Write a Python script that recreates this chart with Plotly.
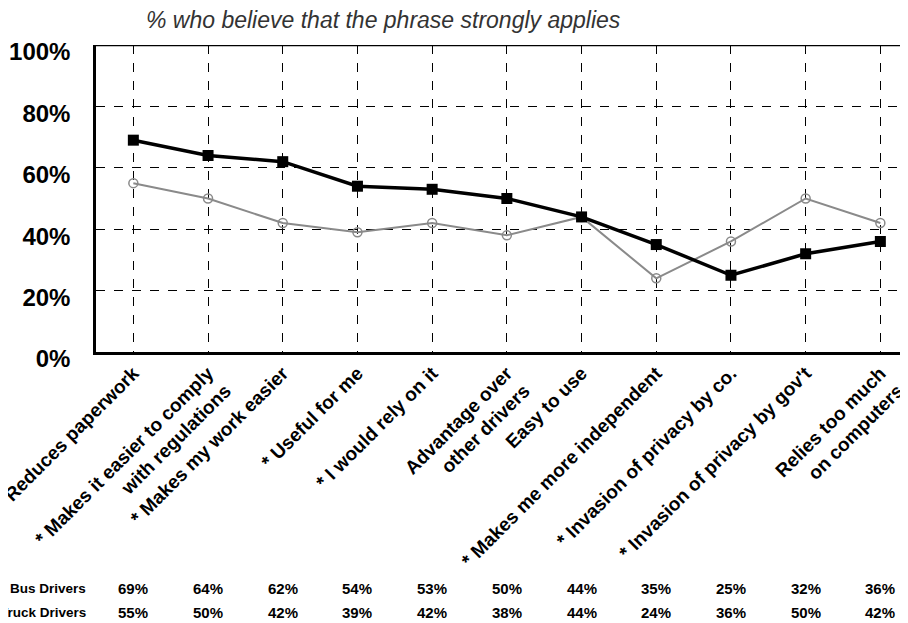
import plotly.graph_objects as go

categories = [
    "Reduces paperwork",
    "* Makes it easier to comply<br>with regulations",
    "* Makes my work easier",
    "* Useful for me",
    "* I would rely on it",
    "Advantage over<br>other drivers",
    "Easy to use",
    "* Makes me more independent",
    "* Invasion of privacy by co.",
    "* Invasion of privacy by gov't",
    "Relies too much<br>on computers",
]
bus = [69, 64, 62, 54, 53, 50, 44, 35, 25, 32, 36]
truck = [55, 50, 42, 39, 42, 38, 44, 24, 36, 50, 42]
y_ticks = [0, 20, 40, 60, 80, 100]
y_labels = ["0%", "20%", "40%", "60%", "80%", "100%"]
title_text = "% who believe that the phrase strongly applies"

FONT = "Liberation Sans, Arial, sans-serif"
xs = list(range(len(categories)))

fig = go.Figure()
fig.add_trace(go.Scatter(
    x=xs, y=truck, mode="lines+markers", name="Truck Drivers",
    line=dict(color="#8a8a8a", width=2),
    marker=dict(symbol="circle-open", size=9, color="#8a8a8a", line=dict(width=1.5)),
))
fig.add_trace(go.Scatter(
    x=xs, y=bus, mode="lines+markers", name="Bus Drivers",
    line=dict(color="black", width=3.5),
    marker=dict(symbol="square", size=11, color="black"),
))

# page has an 8px body margin: figure sits at (8, 8)
fig.update_layout(
    width=900, height=615,
    margin=dict(l=88, r=0, t=37, b=271, autoexpand=False),
    paper_bgcolor="white", plot_bgcolor="white",
    showlegend=False,
    font=dict(family=FONT, color="black"),
)
fig.update_xaxes(
    range=[-0.5, 10.37], tickmode="array", tickvals=xs, ticktext=categories,
    tickangle=-45, tickfont=dict(family=FONT, size=19, color="black", weight="bold"),
    showgrid=True, gridcolor="black", gridwidth=1, griddash="dash",
    showline=True, linecolor="black", linewidth=2.5, mirror=False,
    ticks="", zeroline=False, automargin=False, ticklabeloverflow="allow",
)
fig.update_yaxes(
    range=[0, 100], tickmode="array", tickvals=y_ticks, ticktext=y_labels,
    tickfont=dict(family=FONT, size=24, color="black", weight="bold"),
    showgrid=True, gridcolor="black", gridwidth=1, griddash="dash",
    showline=True, linecolor="black", linewidth=2.5,
    ticks="", zeroline=False, ticklabelstandoff=18, ticklabelshift=7,
    automargin=False, ticklabeloverflow="allow",
)
# top border line at 100%
fig.add_shape(type="line", xref="paper", yref="y", x0=0, x1=1, y0=100, y1=100,
              line=dict(color="black", width=2.5))

fig.add_annotation(text=title_text, xref="paper", yref="paper", x=0, y=1,
                   xshift=48, yshift=25, xanchor="left", yanchor="middle",
                   showarrow=False,
                   font=dict(family=FONT, size=23, color="#333333", style="italic"))

rows = [("Bus Drivers", bus, -236), ("Truck Drivers", truck, -260)]
for name, vals, ys in rows:
    fig.add_annotation(text=name, xref="paper", yref="paper", x=0, y=0,
                       xshift=-8, yshift=ys, xanchor="right", yanchor="middle",
                       showarrow=False,
                       font=dict(family=FONT, size=13.5, color="black", weight="bold"))
    for i, v in enumerate(vals):
        fig.add_annotation(text=f"{v}%", xref="x", yref="paper", x=i, y=0,
                           yshift=ys, xanchor="center", yanchor="middle",
                           showarrow=False,
                           font=dict(family=FONT, size=15, color="black", weight="bold"))

fig.write_html("out.html")
